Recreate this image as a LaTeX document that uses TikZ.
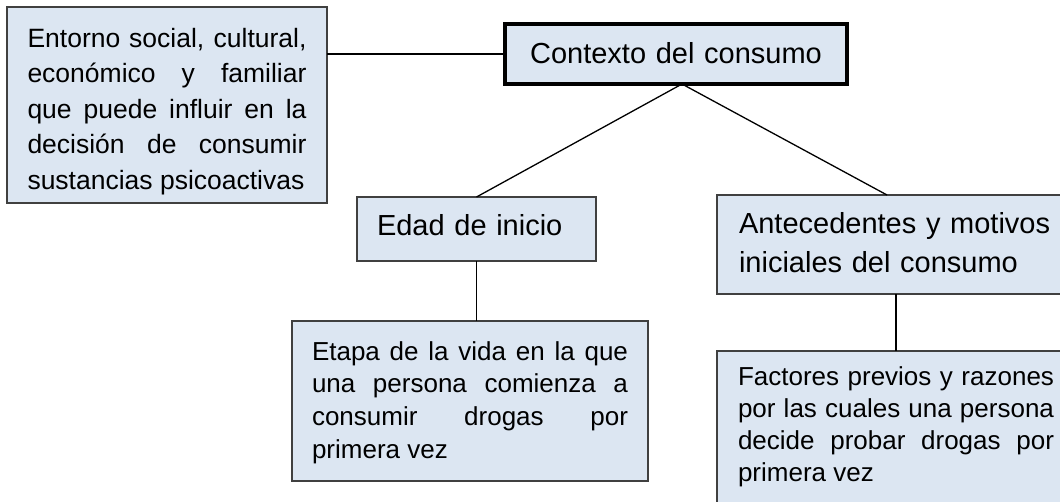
\documentclass[tikz,border=0pt]{standalone}
\usepackage{fontspec}
\setmainfont{Liberation Sans}
\definecolor{boxfill}{HTML}{DCE6F2}
\definecolor{boxline}{HTML}{404040}
\hyphenpenalty=10000
\exhyphenpenalty=10000
\tolerance=10000
\begin{document}
\begin{tikzpicture}[x=1pt,y=-1pt,
  box/.style={draw=boxline, line width=1.3pt, fill=boxfill, anchor=north west,
    inner ysep=0pt, outer sep=0pt},
  bodytext/.style={font=\fontsize{26}{32.5}\selectfont, align=justify},
  headtext/.style={font=\fontsize{29}{39}\selectfont, align=left},
  link/.style={draw=black, line width=1.3pt}]
\useasboundingbox (0,0) rectangle (1060,501);
\fill[white] (0,0) rectangle (1060,501);

\node[box, bodytext, font=\fontsize{26.5}{35.6}\selectfont, text width=279pt, inner xsep=20.5pt,
  text height=40pt, text depth=156pt] (tl) at (7,7)
  {Entorno social, cultural,\linebreak económico y familiar\linebreak que puede influir en la\linebreak decisión de consumir\linebreak sustancias psicoactivas};

\node[draw=black, line width=4pt, fill=boxfill, anchor=north west, inner sep=0pt, outer sep=0pt,
  text width=342pt, align=center, text height=39pt, text depth=21pt,
  font=\fontsize{29}{34}\selectfont] (ctx) at (505,24) {Contexto del consumo};

\node[box, headtext, text width=199pt, inner xsep=20pt, text height=38pt, text depth=26pt]
  (edad) at (357,197) {Edad de inicio};

\node[box, headtext, text width=314pt, inner xsep=22pt, text height=38pt, text depth=61pt]
  (ante) at (717,195) {Antecedentes y motivos\\iniciales del consumo};

\node[box, bodytext, font=\fontsize{26}{32.7}\selectfont, text width=316pt, inner xsep=20pt,
  text height=39pt, text depth=121pt] (etapa) at (292,321)
  {Etapa de la vida en la que\linebreak una persona comienza a\linebreak consumir drogas por\linebreak primera vez};

\node[box, bodytext, font=\fontsize{26}{32.3}\selectfont, text width=316pt, inner xsep=21pt,
  text height=34pt, text depth=169pt] (fact) at (717,351)
  {Factores previos y razones\linebreak por las cuales una persona\linebreak decide probar drogas por\linebreak primera vez};

\draw[link] (ctx.west) -- (ctx.west -| tl.east);
\draw[link] ([xshift=6pt]ctx.south) -- (edad.north);
\draw[link] ([xshift=6pt]ctx.south) -- ([xshift=-9pt]ante.north);
\draw[link] (edad.south) -- (edad.south |- etapa.north);
\draw[link] (ante.south) -- (ante.south |- fact.north);
\end{tikzpicture}
\end{document}
